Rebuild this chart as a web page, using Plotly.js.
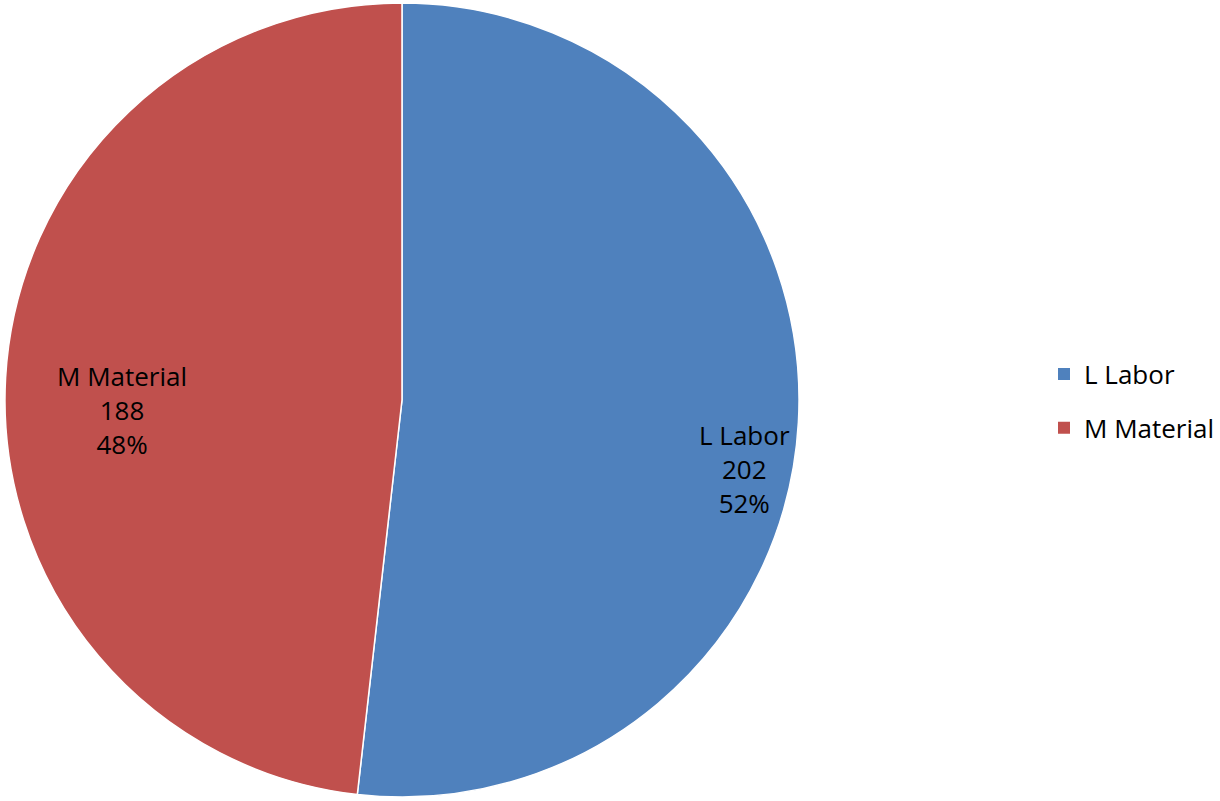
<!DOCTYPE html>
<html>
<head>
<meta charset="utf-8">
<script src="https://cdn.plot.ly/plotly-3.0.1.min.js"></script>
<style>html,body{margin:0;padding:0;background:#fff;}#chart{width:1220px;height:801px;}</style>
</head>
<body>
<div id="chart"></div>
<script>
const categories = ["L Labor", "M Material"];
const values = [202, 188];
const colors = ["#4F81BD", "#C0504D"];

const FONT = "Open Sans, Noto Sans, sans-serif";
const total = values.reduce((a, b) => a + b, 0);
// label anchor positions (paper coords) – layout only
const labelPos = [{x: 0.6145, y: 0.4145}, {x: 0.1008, y: 0.4881}];

const pie = {
  type: "pie",
  labels: categories,
  values: values,
  sort: false,
  direction: "clockwise",
  rotation: 0,
  marker: {colors: colors, line: {color: "#ffffff", width: 1.5}},
  textinfo: "none",
  hoverinfo: "none",
  showlegend: false,
  domain: {x: [0.0041, 0.6598], y: [0.0012, 1.0]}
};

const legendTraces = categories.map((c, i) => ({
  type: "scatter", mode: "markers", x: [null], y: [null],
  name: c, legendgroup: "g" + i, showlegend: true,
  marker: {symbol: "square", size: 12, color: colors[i]},
  hoverinfo: "none"
}));

const annotations = categories.map((c, i) => ({
  xref: "paper", yref: "paper",
  x: labelPos[i].x, y: labelPos[i].y,
  xanchor: "center", yanchor: "middle", align: "center",
  showarrow: false,
  text: c + "<br>" + values[i] + "<br>" + Math.round(values[i] / total * 100) + "%",
  font: {family: FONT, size: 26, color: "#000000"}
}));

const layout = {
  width: 1220, height: 801,
  margin: {l: 0, r: 0, t: 0, b: 0},
  paper_bgcolor: "#ffffff", plot_bgcolor: "rgba(0,0,0,0)",
  xaxis: {visible: false}, yaxis: {visible: false},
  showlegend: true,
  legend: {x: 0.8623, y: 0.4994, xanchor: "left", yanchor: "middle",
           tracegroupgap: 17, itemsizing: "constant",
           font: {family: FONT, size: 26, color: "#000000"}},
  annotations: annotations
};

Plotly.newPlot("chart", [pie].concat(legendTraces), layout, {displayModeBar: false, staticPlot: true});
</script>
</body>
</html>
